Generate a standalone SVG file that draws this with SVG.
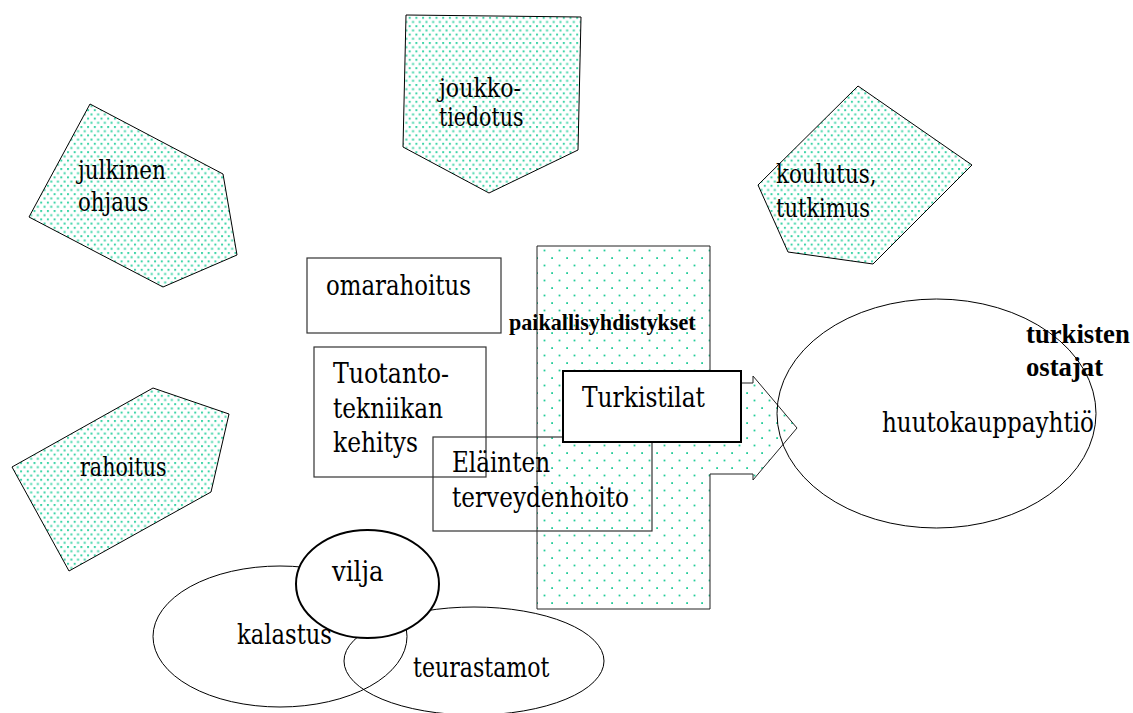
<svg xmlns="http://www.w3.org/2000/svg" width="1133" height="713" viewBox="0 0 1133 713">
<style>
  text { font-family: "DejaVu Serif", "Noto Serif", "Liberation Serif", serif; fill: #000; }
  .pt { font-size: 26px; }
  .ct { font-size: 28.5px; }
  .b { font-family: "Liberation Serif", "Times New Roman", serif; font-weight: bold; }
  .pent { fill: url(#densedots); stroke: #000; stroke-width: 1; }
  .box { fill: none; stroke: #333; stroke-width: 1.2; }
  .ell { fill: none; stroke: #000; stroke-width: 1; }
</style>
<defs>
  <pattern id="densedots" patternUnits="userSpaceOnUse" x="0" y="0" width="6.7" height="8.4">
    <rect x="0" y="0" width="2" height="2" fill="#3fd4a8"/>
    <rect x="3.35" y="4.2" width="2" height="2" fill="#3fd4a8"/>
  </pattern>
  <pattern id="sparsedots" patternUnits="userSpaceOnUse" x="12" y="3" width="15" height="15">
    <rect x="-0.8" y="-0.8" width="1.8" height="1.8" fill="#22cc99"/>
    <rect x="14.2" y="-0.8" width="1.8" height="1.8" fill="#22cc99"/>
    <rect x="-0.8" y="14.2" width="1.8" height="1.8" fill="#22cc99"/>
    <rect x="14.2" y="14.2" width="1.8" height="1.8" fill="#22cc99"/>
    <rect x="6.6" y="6.6" width="1.8" height="1.8" fill="#22cc99"/>
  </pattern>
</defs>
<rect width="1133" height="713" fill="#fff"/>

<g id="julkinen-ohjaus">
  <polygon class="pent" points="90,104 223,174 237,255 163,287 29,217"/>
  <text class="pt" x="78" y="179" textLength="88" lengthAdjust="spacingAndGlyphs">julkinen</text>
  <text class="pt" x="78" y="211" textLength="70.5" lengthAdjust="spacingAndGlyphs">ohjaus</text>
</g>

<g id="joukkotiedotus">
  <polygon class="pent" points="406,15 581,17 578,150 489,193 403,147"/>
  <text class="pt" x="439" y="97" textLength="82" lengthAdjust="spacingAndGlyphs">joukko-</text>
  <text class="pt" x="439" y="126" textLength="84.5" lengthAdjust="spacingAndGlyphs">tiedotus</text>
</g>

<g id="koulutus-tutkimus">
  <polygon class="pent" points="858,86 972,165 873,264 788,252 758,185"/>
  <text class="pt" x="776" y="183" textLength="100.5" lengthAdjust="spacingAndGlyphs">koulutus,</text>
  <text class="pt" x="776" y="217" textLength="94" lengthAdjust="spacingAndGlyphs">tutkimus</text>
</g>

<g id="rahoitus">
  <polygon class="pent" points="153,388 229,414 211,492 69,571 12,467"/>
  <text class="pt" x="80" y="476" textLength="86.5" lengthAdjust="spacingAndGlyphs">rahoitus</text>
</g>

<g id="omarahoitus">
  <rect class="box" x="307" y="258" width="194" height="75"/>
  <text class="ct" x="326" y="295" textLength="145" lengthAdjust="spacingAndGlyphs">omarahoitus</text>
</g>

<g id="tuotantotekniikan-kehitys">
  <rect class="box" x="314" y="347" width="172" height="130"/>
  <text class="ct" x="333" y="383" textLength="116" lengthAdjust="spacingAndGlyphs">Tuotanto-</text>
  <text class="ct" x="333" y="418" textLength="110" lengthAdjust="spacingAndGlyphs">tekniikan</text>
  <text class="ct" x="333" y="452" textLength="85" lengthAdjust="spacingAndGlyphs">kehitys</text>
</g>

<g id="paikallisyhdistykset">
  <polygon fill="url(#sparsedots)" stroke="#222" stroke-width="1" points="537,246 710,246 710,383 753,383 753,376 797,428 753,480 753,474 710,474 710,609 537,609"/>
  <text class="b" font-size="22.1" x="509" y="330">paikallisyhdistykset</text>
</g>

<g id="elainten-terveydenhoito">
  <rect class="box" x="433" y="437" width="219" height="94"/>
  <text class="ct" x="452" y="472" textLength="98" lengthAdjust="spacingAndGlyphs">Eläinten</text>
  <text class="ct" x="452" y="507" textLength="177" lengthAdjust="spacingAndGlyphs">terveydenhoito</text>
</g>

<g id="turkistilat">
  <rect x="563" y="371" width="178" height="71" fill="#fff" stroke="#000" stroke-width="2"/>
  <text class="ct" x="582" y="407" textLength="123" lengthAdjust="spacingAndGlyphs">Turkistilat</text>
</g>

<g id="huutokauppayhtio">
  <ellipse class="ell" cx="936.5" cy="413.5" rx="159.5" ry="114.5"/>
  <text class="ct" x="882" y="432" textLength="212" lengthAdjust="spacingAndGlyphs">huutokauppayhtiö</text>
</g>

<g id="turkisten-ostajat">
  <text class="b" font-size="26.7" x="1026" y="343">turkisten</text>
  <text class="b" font-size="26.7" x="1026" y="376">ostajat</text>
</g>

<g id="kalastus">
  <ellipse class="ell" cx="280" cy="636.5" rx="127" ry="70.5"/>
  <text class="ct" x="237" y="644" textLength="95" lengthAdjust="spacingAndGlyphs">kalastus</text>
</g>

<g id="teurastamot">
  <ellipse class="ell" cx="474" cy="661" rx="130" ry="54"/>
  <text class="ct" x="413" y="677" textLength="136.5" lengthAdjust="spacingAndGlyphs">teurastamot</text>
</g>

<g id="vilja">
  <ellipse cx="367.5" cy="584" rx="71.5" ry="54" fill="#fff" stroke="#000" stroke-width="2"/>
  <text class="ct" x="332" y="581" textLength="51.5" lengthAdjust="spacingAndGlyphs">vilja</text>
</g>

<g id="connectors"/>
</svg>
